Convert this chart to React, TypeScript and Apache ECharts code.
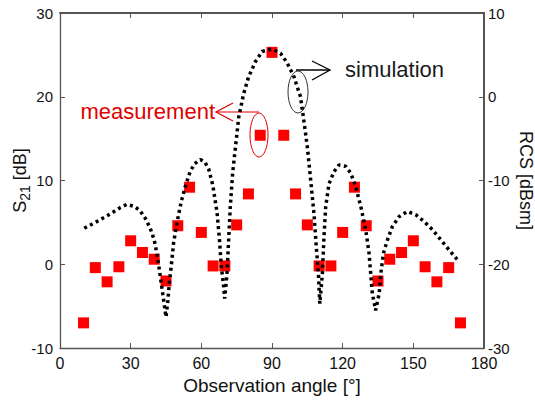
import React, { useEffect, useRef } from "react";
import * as echarts from "echarts";

const FONT = "Liberation Sans, Arial, Helvetica, sans-serif";

// Measured S21 (left axis, dB)
const measAngles = [10, 15, 20, 25, 30, 35, 40, 45, 50, 55, 60, 65, 70, 75, 80, 85, 90, 95, 100, 105, 110, 115, 120, 125, 130, 135, 140, 145, 150, 155, 160, 165, 170];
const measS21 = [-7.0, -0.4, -2.1, -0.3, 2.8, 1.4, 0.6, -2.0, 4.6, 9.2, 3.8, -0.2, -0.2, 4.7, 8.4, 15.4, 25.3, 15.4, 8.4, 4.7, -0.2, -0.2, 3.8, 9.2, 4.6, -2.0, 0.6, 1.4, 2.8, -0.3, -2.1, -0.4, -7.0];

// Simulated RCS (right axis, dBsm)
const simAngles = [10.3, 16.3, 21.3, 25.5, 28.4, 31.6, 34.0, 36.2, 38.3, 40.0, 41.1, 42.1, 43.0, 44.0, 45.0, 45.8, 46.4, 47.2, 48.2, 49.6, 51.5, 53.2, 55.3, 57.2, 59.6, 61.5, 63.1, 64.9, 66.7, 67.7, 68.5, 69.5, 69.9, 70.9, 71.6, 72.3, 73.3, 74.8, 75.9, 78.0, 80.1, 83.0, 85.8, 90.0, 93.6, 96.5, 99.3, 102.1, 103.5, 105.0, 106.4, 107.8, 108.8, 109.7, 110.3, 111.4, 112.0, 112.8, 114.2, 116.3, 118.4, 121.3, 123.4, 125.5, 127.7, 129.8, 131.2, 131.9, 132.6, 134.0, 135.5, 136.2, 137.3, 139.0, 141.1, 144.0, 147.5, 151.1, 154.6, 158.2, 161.7, 165.2, 168.8];
const simRcs = [-15.7, -14.8, -14.0, -13.25, -12.85, -13.1, -13.6, -14.5, -15.7, -17.1, -18.7, -20.5, -22.3, -24.3, -26.3, -24.3, -22.3, -20.3, -17.5, -15.1, -12.5, -10.7, -8.9, -8.0, -7.5, -7.8, -8.6, -10.6, -13.9, -17.1, -20.3, -22.7, -24.1, -21.1, -17.1, -13.1, -9.1, -5.2, -2.4, 0.4, 2.4, 4.2, 5.4, 5.7, 5.2, 4.0, 2.4, 0.0, -2.8, -6.0, -9.9, -13.9, -17.9, -21.1, -24.7, -21.1, -17.1, -13.1, -10.4, -8.95, -8.15, -8.3, -9.1, -10.7, -13.1, -15.9, -18.7, -21.1, -23.5, -25.5, -23.5, -21.1, -18.7, -17.1, -15.5, -14.3, -13.7, -14.1, -14.9, -15.9, -17.1, -18.3, -19.5];

// Axis ticks
const xMin = 0, xMax = 180, xStep = 30;
const leftMin = -10, leftMax = 30, leftStep = 10;
const rightMin = -30, rightMax = 10, rightStep = 10;

const AXIS_COLOR = "#555";
const TEXT_COLOR = "#111";

function axisParts(w: number) {
  return {
    show: true,
    axisLine: { show: true, onZero: false, lineStyle: { color: AXIS_COLOR, width: w } },
    axisTick: { show: true, inside: true, length: 5, lineStyle: { color: AXIS_COLOR, width: 1 } },
    splitLine: { show: false },
  };
}

export default function App() {
  const ref = useRef<HTMLDivElement>(null);

  useEffect(() => {
    document.body.style.margin = "0";
    document.body.style.background = "#fff";
    if (!ref.current) return;
    const chart = echarts.init(ref.current, undefined, { renderer: "svg" });

    const option: any = {
      animation: false,
      backgroundColor: "#fff",
      grid: {
        left: 60,
        right: 51,
        top: 13,
        bottom: 52,
        containLabel: false,
        outerBoundsMode: "none",
      },
      xAxis: [
        {
          type: "value",
          min: xMin,
          max: xMax,
          interval: xStep,
          position: "bottom",
          ...axisParts(1.3),
          axisLabel: { color: TEXT_COLOR, fontSize: 16, margin: 7, fontFamily: FONT },
          name: "Observation angle [°]",
          nameLocation: "middle",
          nameGap: 28,
          nameMoveOverlap: false,
          nameTextStyle: { color: TEXT_COLOR, fontSize: 19, fontFamily: FONT },
        },
        {
          type: "value",
          min: xMin,
          max: xMax,
          interval: xStep,
          position: "top",
          ...axisParts(2),
          axisLabel: { show: false },
        },
      ],
      yAxis: [
        {
          type: "value",
          min: leftMin,
          max: leftMax,
          interval: leftStep,
          position: "left",
          ...axisParts(1.3),
          axisLabel: { color: TEXT_COLOR, fontSize: 15, margin: 7, fontFamily: FONT },
          name: "{s|S}{sub|21}{s| [dB]}",
          nameLocation: "middle",
          nameGap: 28,
          nameRotate: 90,
          nameMoveOverlap: false,
          nameTextStyle: {
            color: TEXT_COLOR,
            fontFamily: FONT,
            rich: {
              s: { fontSize: 18, color: TEXT_COLOR, fontFamily: FONT },
              sub: { fontSize: 14, color: TEXT_COLOR, fontFamily: FONT, padding: [10, 0, 0, 0] },
            },
          },
        },
        {
          type: "value",
          min: rightMin,
          max: rightMax,
          interval: rightStep,
          position: "right",
          ...axisParts(2),
          axisLabel: { color: TEXT_COLOR, fontSize: 15, margin: 4, fontFamily: FONT },
          name: "RCS [dBsm]",
          nameLocation: "middle",
          nameGap: 33,
          nameRotate: -90,
          nameMoveOverlap: false,
          nameTextStyle: { color: TEXT_COLOR, fontSize: 18, fontFamily: FONT },
        },
      ],
      series: [
        {
          name: "measurement",
          type: "scatter",
          xAxisIndex: 0,
          yAxisIndex: 0,
          symbol: "rect",
          symbolSize: 11,
          itemStyle: { color: "#ff0000", opacity: 1 },
          data: measAngles.map((a, i) => [a, measS21[i]]),
        },
        {
          name: "simulation",
          type: "line",
          xAxisIndex: 0,
          yAxisIndex: 1,
          showSymbol: false,
          symbol: "none",
          lineStyle: { color: "#000", width: 3.5, type: [3, 3.5], cap: "butt" },
          data: simAngles.map((a, i) => [a, simRcs[i]]),
        },
      ],
      graphic: [
        {
          type: "text",
          x: 215,
          y: 111,
          style: { text: "measurement", fill: "#e00000", font: `22px ${FONT}`, textAlign: "right", textVerticalAlign: "middle" },
        },
        { type: "line", shape: { x1: 216, y1: 112, x2: 259, y2: 112 }, style: { stroke: "#e00000", lineWidth: 1.2 } },
        { type: "polyline", shape: { points: [[233, 103], [216, 112], [233, 121]] }, style: { stroke: "#e00000", lineWidth: 1.2, fill: null } },
        { type: "ellipse", shape: { cx: 259, cy: 135, rx: 9, ry: 22 }, style: { stroke: "#e00000", lineWidth: 1, fill: null } },
        { type: "ellipse", shape: { cx: 298, cy: 92, rx: 10, ry: 21 }, style: { stroke: "#333", lineWidth: 1, fill: null } },
        { type: "line", shape: { x1: 296, y1: 70, x2: 330, y2: 70 }, style: { stroke: "#000", lineWidth: 1.3 } },
        { type: "polyline", shape: { points: [[312, 61], [330, 70], [312, 80]] }, style: { stroke: "#000", lineWidth: 1.3, fill: null } },
        {
          type: "text",
          x: 345,
          y: 69,
          style: { text: "simulation", fill: "#1a1a1a", font: `22px ${FONT}`, textAlign: "left", textVerticalAlign: "middle" },
        },
      ],
    };

    chart.setOption(option);
    return () => chart.dispose();
  }, []);

  return <div ref={ref} style={{ width: 535, height: 400 }} />;
}
